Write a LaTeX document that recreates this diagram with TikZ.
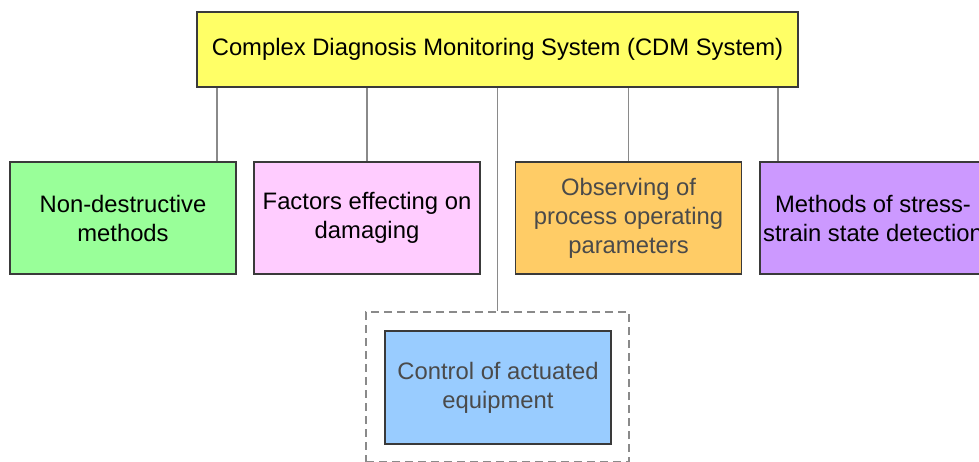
\documentclass[tikz,border=0pt]{standalone}
\usepackage{fontspec}
\setmainfont{Liberation Sans}
\usetikzlibrary{calc}
\definecolor{cyel}{HTML}{FFFF66}
\definecolor{cgreen}{HTML}{99FF99}
\definecolor{cpink}{HTML}{FFCCFF}
\definecolor{corange}{HTML}{FFCC66}
\definecolor{cpurple}{HTML}{CC99FF}
\definecolor{cblue}{HTML}{99CCFF}
\definecolor{cborder}{HTML}{3A3A3A}
\definecolor{cline}{HTML}{8A8A8A}
\definecolor{cgtext}{HTML}{4A4A4A}
\begin{document}
\begin{tikzpicture}[x=1pt,y=-1pt,
  box/.style={draw=cborder, line width=1.8pt, inner sep=0pt, align=center,
    minimum width=226pt, minimum height=112pt, text=black,
    font=\fontsize{23.8}{29}\selectfont},
  conn/.style={draw=cline, line width=1.8pt},
  dbox/.style={draw=cline, line width=1.5pt, dash pattern=on 8pt off 5pt, inner sep=0pt,
    minimum width=263pt, minimum height=150pt}]
\useasboundingbox (0,0) rectangle (979,462);
\begin{scope}
\clip (0,0) rectangle (979,462);
\node[box, fill=cyel, minimum width=601pt, minimum height=75pt] (top) at (497.5,49.5) {Complex Diagnosis Monitoring System (CDM System)};
\node[box, fill=cgreen] (green) at (123,218) {Non-destructive\\methods};
\node[box, fill=cpink] (pink) at (367,218) {Factors effecting on\\damaging};
\node[box, fill=corange, text=cgtext] (orange) at (628.5,218) {Observing of\\process operating\\parameters};
\node[box, fill=cpurple] (purple) at (873,218) {Methods of stress-\\strain state detection};
\node[dbox] (dashed) at (497.5,387) {};
\node[box, fill=cblue, text=cgtext, minimum height=113pt] (blue) at (498,387.5) {Control of actuated\\equipment};
\coordinate (g1) at ([xshift=-20pt]green.north east);
\coordinate (p1) at ([xshift=19pt]purple.north west);
\draw[conn] (top.south -| g1) -- (g1);
\draw[conn] (top.south -| pink.north) -- (pink.north);
\draw[conn] (top.south -| dashed.north) -- (dashed.north);
\draw[conn] (top.south -| orange.north) -- (orange.north);
\draw[conn] (top.south -| p1) -- (p1);
\end{scope}
\end{tikzpicture}
\end{document}
